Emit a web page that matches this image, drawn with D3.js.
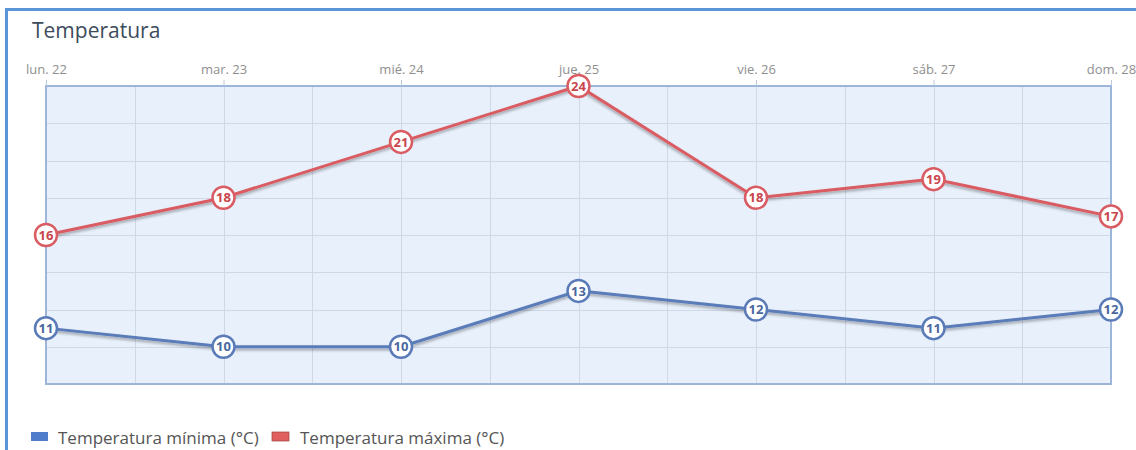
<!DOCTYPE html>
<html><head><meta charset="utf-8">
<script src="https://cdn.jsdelivr.net/npm/d3@7"></script>
<style>
html,body{margin:0;padding:0;background:#fff;}
svg{display:block;font-family:"Open Sans",sans-serif;}
</style></head>
<body>
<svg id="chart" width="1136" height="450"></svg>
<script>
const days = ["lun. 22","mar. 23","mié. 24","jue. 25","vie. 26","sáb. 27","dom. 28"];
const minTemps = [11,10,10,13,12,11,12];
const maxTemps = [16,18,21,24,18,19,17];
const yTicks = [8,10,12,14,16,18,20,22,24];
const seriesNames = ["Temperatura mínima (°C)","Temperatura máxima (°C)"];
const title = "Temperatura";

const svg = d3.select("#chart");
const W = 1136, H = 450;
const m = {left:46, right:1111, top:86, bottom:384};

// frame
svg.append("rect").attr("x",0).attr("y",0).attr("width",W).attr("height",H).attr("fill","#fff");
svg.append("line").attr("x1",5).attr("x2",W).attr("y1",9.5).attr("y2",9.5).attr("stroke","#5b95d8").attr("stroke-width",3);
svg.append("line").attr("x1",6.5).attr("x2",6.5).attr("y1",8).attr("y2",H).attr("stroke","#5b95d8").attr("stroke-width",3);

svg.append("text").attr("x",32).attr("y",38).attr("font-size",21).attr("fill","#3c4b5c").text(title);

const x = d3.scalePoint().domain(days).range([m.left,m.right]);
const xg = d3.scaleLinear().domain([0,12]).range([m.left,m.right]);
const y = d3.scaleLinear().domain([8,24]).range([m.bottom,m.top]);

// plot background
svg.append("rect").attr("x",m.left).attr("y",m.top).attr("width",m.right-m.left).attr("height",m.bottom-m.top)
  .attr("fill","#e8f0fb");

// grid
const g = svg.append("g");
g.selectAll("line.h").data(yTicks).join("line").attr("class","h")
  .attr("x1",m.left).attr("x2",m.right).attr("y1",d=>Math.round(y(d))+0.5).attr("y2",d=>Math.round(y(d))+0.5)
  .attr("stroke","#cfd8e6").attr("stroke-width",1);
g.selectAll("line.v").data(d3.range(13)).join("line").attr("class","v")
  .attr("x1",d=>Math.round(xg(d))+0.5).attr("x2",d=>Math.round(xg(d))+0.5).attr("y1",m.top).attr("y2",m.bottom)
  .attr("stroke","#cfd8e6").attr("stroke-width",1);

svg.append("rect").attr("x",m.left).attr("y",m.top).attr("width",m.right-m.left).attr("height",m.bottom-m.top)
  .attr("fill","none").attr("stroke","#9db5d8").attr("stroke-width",2);

// top axis
const ax = svg.append("g").attr("transform",`translate(0,${m.top})`)
  .call(d3.axisTop(x).tickSize(6).tickPadding(6));
ax.select(".domain").remove();
ax.selectAll(".tick line").attr("stroke","#b9c9e0");
ax.selectAll(".tick text").attr("fill","#8f8f8f").attr("font-size",13).attr("font-family","Open Sans");

// shadow filter
const defs = svg.append("defs");
const f = defs.append("filter").attr("id","sh").attr("x","-10%").attr("y","-50%").attr("width","120%").attr("height","200%");
f.append("feGaussianBlur").attr("in","SourceAlpha").attr("stdDeviation",1.5);
f.append("feOffset").attr("dx",0).attr("dy",2).attr("result","ob");
f.append("feComponentTransfer").append("feFuncA").attr("type","linear").attr("slope",0.35);
const mg = f.append("feMerge"); mg.append("feMergeNode"); mg.append("feMergeNode").attr("in","SourceGraphic");

const series = [
  {vals:minTemps, color:"#5a7bb8", text:"#4a679e"},
  {vals:maxTemps, color:"#da5c63", text:"#c9454d"}
];
const line = d3.line().x((d,i)=>x(days[i])).y(d=>y(d));
series.forEach(s=>{
  svg.append("path").datum(s.vals).attr("d",line).attr("fill","none")
    .attr("stroke",s.color).attr("stroke-width",3).attr("filter","url(#sh)");
});
series.forEach(s=>{
  const gg = svg.append("g");
  const pts = gg.selectAll("g").data(s.vals).join("g")
    .attr("transform",(d,i)=>`translate(${x(days[i])},${y(d)})`);
  pts.append("circle").attr("r",11).attr("fill","#fff").attr("stroke",s.color).attr("stroke-width",2.5);
  pts.append("text").attr("text-anchor","middle").attr("dy","0.36em").attr("font-size",13).attr("font-weight","bold")
    .attr("fill",s.text).text(d=>d);
});

// legend
const lg = svg.append("g");
const lx = [31, 272];
const lcol = ["#4f7dcc","#e05f5f"];
seriesNames.forEach((n,i)=>{
  lg.append("rect").attr("x",lx[i]).attr("y",432).attr("width",17).attr("height",9)
    .attr("fill",lcol[i]).attr("stroke", i==1?"#a04040":"none").attr("stroke-width",0.7);
  lg.append("text").attr("x",lx[i]+(i==0?27:28)).attr("y",443.5).attr("font-size",17).attr("fill","#555").text(n);
});
</script>
</body></html>
